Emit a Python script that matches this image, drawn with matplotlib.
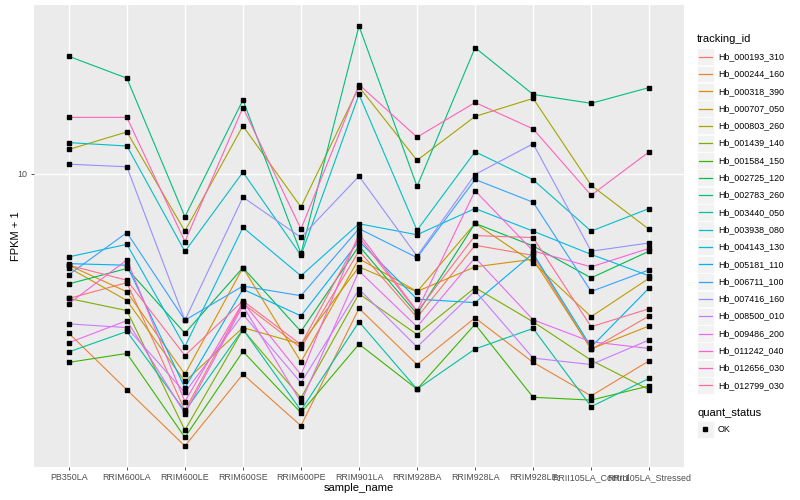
import numpy as np
import matplotlib
matplotlib.use("Agg")
import matplotlib.pyplot as plt
from matplotlib.patches import Rectangle
from matplotlib.lines import Line2D

plt.rcParams['font.family'] = ['Liberation Sans', 'DejaVu Sans']

samples = ["PB350LA", "RRIM600LA", "RRIM600LE", "RRIM600SE", "RRIM600PE",
           "RRIM901LA", "RRIM928BA", "RRIM928LA", "RRIM928LE",
           "RRII105LA_Control", "RRII105LA_Stressed"]

tracking_ids = ["Hb_000193_310", "Hb_000244_160", "Hb_000318_390", "Hb_000707_050",
                "Hb_000803_260", "Hb_001439_140", "Hb_001584_150", "Hb_002725_120",
                "Hb_002783_260", "Hb_003440_050", "Hb_003938_080", "Hb_004143_130",
                "Hb_005181_110", "Hb_006711_100", "Hb_007416_160", "Hb_008500_010",
                "Hb_009486_200", "Hb_011242_040", "Hb_012656_030", "Hb_012799_030"]

# FPKM + 1, one row per tracking_id, one column per sample
fpkm1 = [
    [4.06, 4.55, 1.81, 3.92, 2.84, 5.72, 3.54, 5.96, 5.54, 2.81, 3.58],
    [3.16, 2.10, 1.40, 2.35, 1.62, 3.78, 2.52, 3.53, 2.56, 2.01, 2.59],
    [5.16, 4.26, 2.35, 5.07, 2.57, 5.41, 4.27, 5.10, 5.39, 2.82, 3.33],
    [5.07, 4.00, 2.23, 3.29, 2.92, 5.10, 4.26, 6.98, 5.26, 3.56, 4.70],
    [11.9, 13.5, 6.60, 14.1, 7.85, 18.7, 11.0, 15.1, 17.2, 9.19, 6.68],
    [4.06, 3.72, 1.57, 3.24, 1.98, 4.20, 3.13, 4.39, 3.43, 2.60, 2.10],
    [2.56, 2.73, 1.49, 2.77, 1.78, 2.92, 2.11, 3.37, 1.99, 1.95, 2.16],
    [4.51, 5.04, 3.16, 5.07, 3.20, 5.93, 3.63, 6.98, 5.93, 4.71, 5.71],
    [23.3, 19.9, 7.32, 17.0, 5.62, 29.0, 9.11, 24.8, 17.7, 16.6, 18.6],
    [2.76, 3.20, 1.80, 3.25, 1.81, 3.43, 2.11, 2.82, 3.27, 1.86, 2.28],
    [12.5, 12.2, 5.70, 10.1, 5.54, 17.7, 6.64, 11.7, 9.56, 6.60, 7.77],
    [5.48, 6.00, 2.87, 6.78, 4.78, 6.96, 6.43, 7.77, 6.60, 5.58, 4.78],
    [5.22, 5.16, 2.13, 4.34, 3.58, 6.14, 4.04, 3.94, 5.62, 2.86, 4.38],
    [4.82, 6.53, 3.47, 4.44, 4.14, 6.72, 5.45, 9.58, 8.13, 4.27, 4.99],
    [10.7, 10.5, 3.47, 8.43, 6.31, 9.81, 5.51, 9.93, 12.4, 5.71, 6.06],
    [3.38, 3.29, 2.06, 3.62, 2.21, 4.34, 2.86, 4.29, 2.64, 2.52, 3.01],
    [2.95, 3.46, 1.77, 3.85, 1.92, 4.95, 3.31, 5.45, 3.48, 2.97, 2.83],
    [3.91, 5.36, 1.93, 3.95, 2.34, 6.48, 3.71, 8.83, 5.72, 5.10, 5.83],
    [15.0, 15.0, 6.12, 16.1, 6.70, 19.0, 13.0, 16.7, 13.8, 8.55, 11.7],
    [5.16, 4.63, 2.69, 3.99, 2.91, 6.32, 3.69, 6.39, 6.30, 3.31, 3.77],
]

colors = ["#F8766D", "#EA8331", "#D89000", "#C09B00", "#A3A500", "#7CAE00",
          "#39B600", "#00BB4E", "#00BF7D", "#00C1A3", "#00BFC4", "#00BAE0",
          "#00B0F6", "#35A2FF", "#9590FF", "#C77CFF", "#E76BF3", "#FA62DB",
          "#FF62BC", "#FF6C91"]

W, H = 800, 500
fig = plt.figure(figsize=(8, 5), dpi=100)
ax = fig.add_axes([34 / W, 1 - 467 / H, 650 / W, 462 / H])
ax.set_facecolor("#EBEBEB")

x = np.arange(len(samples))
for vals, c in zip(fpkm1, colors):
    ax.plot(x, vals, color=c, lw=0.8, zorder=2)
for vals in fpkm1:
    ax.plot(x, vals, ls="none", marker="s", ms=2.4, color="black", zorder=3)

ax.set_yscale("log")
lo = np.log10(np.min(fpkm1))
hi = np.log10(np.max(fpkm1))
pad = (hi - lo) * 0.05
ax.set_ylim(10 ** (lo - pad), 10 ** (hi + pad))
ax.set_xlim(-0.6, len(samples) - 0.4)
ax.set_yticks([10])
ax.set_yticklabels(["10"])
ax.yaxis.set_minor_locator(matplotlib.ticker.NullLocator())
ax.set_xticks(x)
ax.set_xticklabels(samples)

ax.grid(True, which="major", color="white", lw=1.0)
ax.set_axisbelow(True)
for s in ax.spines.values():
    s.set_visible(False)
ax.tick_params(axis="both", colors="#333333", length=2.5, width=0.6,
               labelsize=6.4, labelcolor="#4D4D4D", pad=2)

ax.set_xlabel("sample_name", fontsize=8)
ax.set_ylabel("FPKM + 1", fontsize=8)
ax.xaxis.set_label_coords(0.5, (467 - 483) / 462)
ax.yaxis.set_label_coords((21 - 34) / 650, 0.5)

# legend drawn by hand to mimic ggplot
def fy(py):
    return 1 - py / H

fig.text(697 / W, fy(39), "tracking_id", fontsize=8, va="center", ha="left")
for i, (name, c) in enumerate(zip(tracking_ids, colors)):
    yc = 56.7 + 17.3 * i
    fig.patches.append(Rectangle((697 / W, fy(yc + 8.4)), 16.8 / W, 16.8 / H,
                                 transform=fig.transFigure, facecolor="#F2F2F2",
                                 edgecolor="white", lw=0.5))
    fig.lines.append(Line2D([698.7 / W, 712 / W], [fy(yc), fy(yc)],
                            transform=fig.transFigure, color=c, lw=0.9))
    fig.text(718 / W, fy(yc), name, fontsize=6.4, va="center", ha="left")

fig.text(697 / W, fy(413), "quant_status", fontsize=8, va="center", ha="left")
fig.patches.append(Rectangle((697 / W, fy(429.3 + 8.4)), 16.8 / W, 16.8 / H,
                             transform=fig.transFigure, facecolor="#F2F2F2",
                             edgecolor="white", lw=0.5))
fig.lines.append(Line2D([705.4 / W], [fy(429.3)], transform=fig.transFigure,
                        marker="s", ms=2.4, color="black", ls="none"))
fig.text(718 / W, fy(429.3), "OK", fontsize=6.4, va="center", ha="left")

fig.savefig("out.png", dpi=100)
